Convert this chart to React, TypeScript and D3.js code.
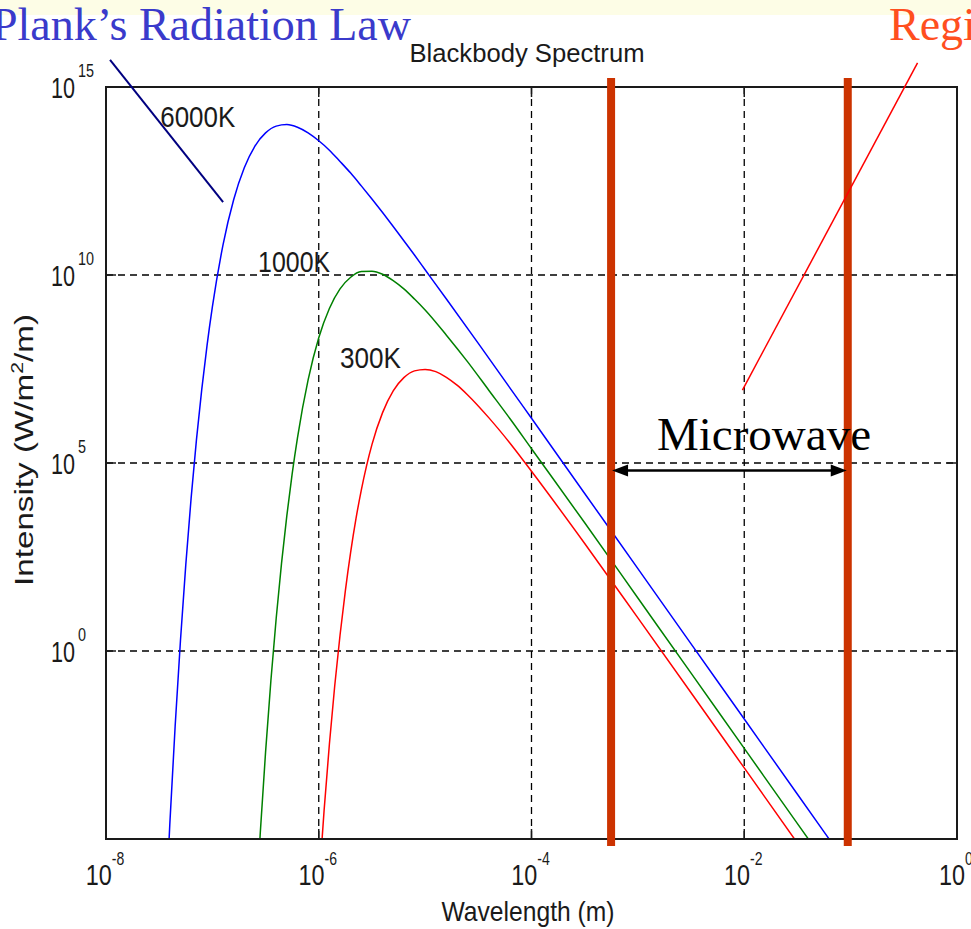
import React from 'react';
import * as d3 from 'd3';

// ---------- data (log10 values) ----------
const temperatures = ['6000K', '1000K', '300K'];
const seriesColors = ['#0000ff', '#008000', '#ff0000'];

const wlExp6000 = [-7.45, -7.4, -7.35, -7.3, -7.25, -7.2, -7.15, -7.1, -7.05, -7.0, -6.9, -6.8, -6.7, -6.6, -6.5, -6.4, -6.3, -6.2, -6.1, -6.0, -5.9, -5.8, -5.7, -5.6, -5.5, -5.4, -5.3, -5.2, -5.1, -5.0, -4.8, -4.5, -4.0, -3.5, -3.0, -2.5, -2.0, -1.5, -1.0];
const intExp6000 = [-7.54, -4.60, -2.00, 0.28, 2.29, 4.06, 5.61, 6.95, 8.13, 9.15, 10.80, 12.00, 12.85, 13.43, 13.78, 13.96, 14.00, 13.93, 13.78, 13.57, 13.32, 13.02, 12.71, 12.37, 12.02, 11.66, 11.29, 10.91, 10.53, 10.14, 9.36, 8.18, 6.19, 4.19, 2.19, 0.19, -1.81, -3.81, -5.81];

const wlExp1000 = [-6.6, -6.55, -6.5, -6.45, -6.4, -6.35, -6.3, -6.25, -6.2, -6.1, -6.0, -5.9, -5.8, -5.7, -5.6, -5.5, -5.4, -5.3, -5.2, -5.1, -5.0, -4.8, -4.6, -4.4, -4.2, -4.0, -3.5, -3.0, -2.5, -2.0, -1.5, -1.2];
const intExp1000 = [-7.31, -4.85, -2.69, -0.79, 0.87, 2.33, 3.60, 4.71, 5.67, 7.21, 8.33, 9.11, 9.63, 9.94, 10.09, 10.10, 10.02, 9.85, 9.63, 9.36, 9.07, 8.40, 7.69, 6.93, 6.17, 5.38, 3.41, 1.41, -0.59, -2.59, -4.59, -5.79];

const wlExp300 = [-6.0, -5.95, -5.9, -5.85, -5.8, -5.75, -5.7, -5.65, -5.6, -5.5, -5.4, -5.3, -5.2, -5.1, -5.0, -4.9, -4.8, -4.7, -4.6, -4.4, -4.2, -4.0, -3.5, -3.0, -2.5, -2.0, -1.5, -1.3];
const intExp300 = [-6.26, -4.25, -2.48, -0.93, 0.42, 1.60, 2.63, 3.52, 4.28, 5.49, 6.34, 6.92, 7.27, 7.45, 7.49, 7.43, 7.28, 7.07, 6.81, 6.20, 5.52, 4.78, 2.86, 0.88, -1.11, -3.11, -5.11, -5.91];

const xTickExps = [-8, -6, -4, -2, 0];
const yTickExps = [0, 5, 10, 15];
const xGridExps = [-6, -4, -2];
const yGridExps = [0, 5, 10];
const microwaveBounds = [5.6e-4, 9.4e-2];
const microwaveArrowIntensity = 6.3e4;

// ---------- layout ----------
const W = 971;
const H = 929;
const PL = 106, PR = 957, PT = 87, PB = 839;

const x = d3.scaleLog().domain([1e-8, 1]).range([PL, PR]);
const y = d3.scaleLog().domain([1e-5, 1e15]).range([PB, PT]);
const p10 = (e: number) => Math.pow(10, e);

const seriesList = [
  { wl: wlExp6000, it: intExp6000 },
  { wl: wlExp1000, it: intExp1000 },
  { wl: wlExp300, it: intExp300 },
];

// label anchors (log10 wavelength, log10 intensity) and widths
const tempLabelAnchors = [[-7.49, 13.94], [-6.57, 10.08], [-5.80, 7.53]];
const tempLabelWidths = [75, 72, 61];

const navyPointer = [[-7.962, 15.72], [-6.899, 11.94]];
const redPointer = [[-0.371, 15.64], [-2.017, 6.94]];

const SANS = "'Liberation Sans', Arial, Helvetica, sans-serif";
const SERIF = "'Liberation Serif', 'Times New Roman', Times, serif";
const TXT = '#1a1a1a';

export default function App() {
  const line = d3
    .line<[number, number]>()
    .x((d) => x(d[0]))
    .y((d) => y(d[1]))
    .curve(d3.curveMonotoneX);

  const arrowY = y(microwaveArrowIntensity);
  const ax0 = x(microwaveBounds[0]) + 1;
  const ax1 = x(microwaveBounds[1]) - 1;
  const ah = 16, aw = 6;

  return (
    <svg
      width={W}
      height={H}
      viewBox={`0 0 ${W} ${H}`}
      style={{ position: 'absolute', left: 0, top: 0, display: 'block', background: '#ffffff' }}
    >
      <defs>
        <clipPath id="plotClip">
          <rect x={PL} y={PT} width={PR - PL} height={PB - PT} />
        </clipPath>
      </defs>

      {/* slide band */}
      <rect x={0} y={0} width={W} height={15} fill="#fdfde6" />

      {/* slide headings */}
      <text x={411} y={40} textAnchor="end" fontFamily={SERIF} fontSize={46} fill="#3a3acb">
        Plank’s Radiation Law
      </text>
      <text x={889} y={40} fontFamily={SERIF} fontSize={46} fill="#ff4f1f">
        Region
      </text>

      {/* chart title */}
      <text x={527} y={62} textAnchor="middle" fontFamily={SANS} fontSize={25} fill={TXT}
        textLength={235} lengthAdjust="spacingAndGlyphs">
        Blackbody Spectrum
      </text>

      {/* grid */}
      {xGridExps.map((e) => (
        <line key={'gx' + e} x1={x(p10(e))} x2={x(p10(e))} y1={PT} y2={PB}
          stroke="#000" strokeWidth={1.3} strokeDasharray="7,5" />
      ))}
      {yGridExps.map((e) => (
        <line key={'gy' + e} x1={PL} x2={PR} y1={y(p10(e))} y2={y(p10(e))}
          stroke="#000" strokeWidth={1.3} strokeDasharray="7,5" />
      ))}

      {/* ticks (inside, all four sides) */}
      {xTickExps.map((e) => (
        <g key={'tx' + e}>
          <line x1={x(p10(e))} x2={x(p10(e))} y1={PB} y2={PB - 10} stroke="#1a1a1a" strokeWidth={1.5} />
          <line x1={x(p10(e))} x2={x(p10(e))} y1={PT} y2={PT + 10} stroke="#1a1a1a" strokeWidth={1.5} />
        </g>
      ))}
      {yTickExps.map((e) => (
        <g key={'ty' + e}>
          <line x1={PL} x2={PL + 10} y1={y(p10(e))} y2={y(p10(e))} stroke="#1a1a1a" strokeWidth={1.5} />
          <line x1={PR} x2={PR - 10} y1={y(p10(e))} y2={y(p10(e))} stroke="#1a1a1a" strokeWidth={1.5} />
        </g>
      ))}

      {/* curves */}
      <g clipPath="url(#plotClip)">
        {seriesList.map((s, i) => (
          <path
            key={temperatures[i]}
            d={line(s.wl.map((w, j) => [p10(w), p10(s.it[j])] as [number, number])) || ''}
            fill="none"
            stroke={seriesColors[i]}
            strokeWidth={1.5}
          />
        ))}
      </g>

      {/* axes box */}
      <rect x={PL} y={PT} width={PR - PL} height={PB - PT} fill="none" stroke="#1a1a1a" strokeWidth={2} />

      {/* x tick labels */}
      {xTickExps.map((e) => (
        <g key={'lx' + e} transform={`translate(${x(p10(e)) - 1},0) scale(0.78,1)`}>
          <text x={0} y={885} textAnchor="middle" fontFamily={SANS} fontSize={30} fill={TXT}>
            10
            <tspan dy={-20} fontSize={18}>{String(e)}</tspan>
          </text>
        </g>
      ))}

      {/* y tick labels */}
      {yTickExps.map((e) => (
        <g key={'ly' + e}>
          <text x={75} y={y(p10(e)) + 10.5} textAnchor="end" fontFamily={SANS} fontSize={29} fill={TXT}
            textLength={24} lengthAdjust="spacingAndGlyphs">
            10
          </text>
          <text x={78} y={y(p10(e)) - 10} fontFamily={SANS} fontSize={18} fill={TXT}
            textLength={String(e).length * 8} lengthAdjust="spacingAndGlyphs">
            {String(e)}
          </text>
        </g>
      ))}

      {/* axis labels */}
      <text x={528} y={921} textAnchor="middle" fontFamily={SANS} fontSize={28} fill={TXT}
        textLength={173} lengthAdjust="spacingAndGlyphs">
        Wavelength (m)
      </text>
      <g transform={`translate(33,450) rotate(-90)`}>
        <text x={0} y={0} textAnchor="middle" fontFamily={SANS} fontSize={25} fill={TXT}
          textLength={272} lengthAdjust="spacingAndGlyphs">
          Intensity (W/m<tspan dy={-10} fontSize={16}>2</tspan><tspan dy={10}>/m)</tspan>
        </text>
      </g>

      {/* temperature labels */}
      {temperatures.map((t, i) => (
        <text key={'tl' + t} x={x(p10(tempLabelAnchors[i][0]))} y={y(p10(tempLabelAnchors[i][1]))}
          fontFamily={SANS} fontSize={30} fill={TXT}
          textLength={tempLabelWidths[i]} lengthAdjust="spacingAndGlyphs">
          {t}
        </text>
      ))}

      {/* microwave bounds */}
      {microwaveBounds.map((b) => (
        <rect key={'mb' + b} x={x(b) - 4} y={PT - 9} width={8} height={PB - PT + 16} fill="#cc3300" />
      ))}

      {/* double arrow */}
      <line x1={ax0 + ah - 2} x2={ax1 - ah + 2} y1={arrowY} y2={arrowY} stroke="#000" strokeWidth={2.5} />
      <polygon points={`${ax0},${arrowY} ${ax0 + ah},${arrowY - aw} ${ax0 + ah},${arrowY + aw}`} fill="#000" />
      <polygon points={`${ax1},${arrowY} ${ax1 - ah},${arrowY - aw} ${ax1 - ah},${arrowY + aw}`} fill="#000" />
      <text x={657} y={450} fontFamily={SERIF} fontSize={47} fill="#000">
        Microwave
      </text>

      {/* pointer lines */}
      <line
        x1={x(p10(navyPointer[0][0]))} y1={y(p10(navyPointer[0][1]))}
        x2={x(p10(navyPointer[1][0]))} y2={y(p10(navyPointer[1][1]))}
        stroke="#000080" strokeWidth={2}
      />
      <line
        x1={x(p10(redPointer[0][0]))} y1={y(p10(redPointer[0][1]))}
        x2={x(p10(redPointer[1][0]))} y2={y(p10(redPointer[1][1]))}
        stroke="#ff0000" strokeWidth={1.5}
      />
    </svg>
  );
}
